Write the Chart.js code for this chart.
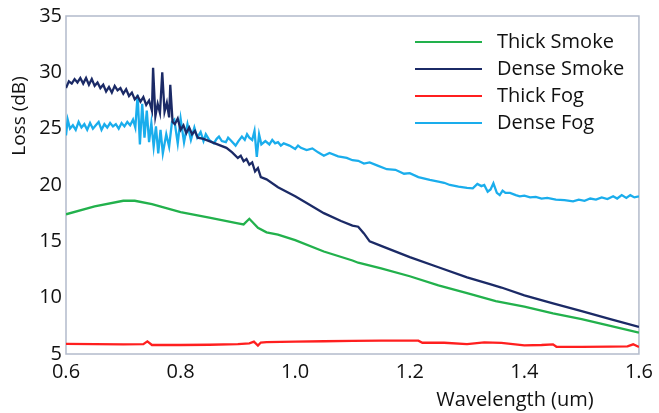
<!DOCTYPE html>
<html>
<head>
<meta charset="utf-8">
<script src="https://cdn.jsdelivr.net/npm/chart.js@4.4.1/dist/chart.umd.min.js"></script>
<style>
  html, body { margin: 0; padding: 0; background: #fff; }
  #box { width: 659px; height: 413px; }
</style>
</head>
<body>
<div id="box"><canvas id="grafica"></canvas></div>
<script>
// wavelength (um) and loss (dB)
const thickSmokeX = [0.60, 0.65, 0.70, 0.72, 0.75, 0.80, 0.85, 0.90, 0.91, 0.92, 0.935, 0.95, 0.97, 1.00, 1.05, 1.10, 1.11, 1.15, 1.20, 1.25, 1.30, 1.35, 1.40, 1.45, 1.50, 1.55, 1.60];
const thickSmokeY = [17.4, 18.1, 18.6, 18.6, 18.3, 17.6, 17.1, 16.6, 16.5, 17.0, 16.2, 15.8, 15.6, 15.1, 14.1, 13.3, 13.1, 12.6, 11.9, 11.1, 10.4, 9.7, 9.2, 8.6, 8.1, 7.5, 6.9];

const denseSmokeX = [0.600, 0.605, 0.610, 0.615, 0.620, 0.625, 0.630, 0.635, 0.640, 0.645, 0.650, 0.655, 0.660, 0.665, 0.670, 0.675, 0.680, 0.685, 0.690, 0.695, 0.700, 0.705, 0.710, 0.715, 0.720, 0.725, 0.730, 0.735, 0.740, 0.745, 0.750, 0.752, 0.756, 0.760, 0.764, 0.768, 0.772, 0.776, 0.780, 0.782, 0.786, 0.790, 0.795, 0.800, 0.805, 0.810, 0.815, 0.820, 0.825, 0.830, 0.840, 0.850, 0.860, 0.870, 0.880, 0.890, 0.900, 0.905, 0.910, 0.915, 0.920, 0.925, 0.930, 0.935, 0.940, 0.950, 0.970, 1.000, 1.020, 1.050, 1.080, 1.100, 1.110, 1.120, 1.130, 1.150, 1.200, 1.250, 1.300, 1.340, 1.360, 1.400, 1.450, 1.500, 1.550, 1.600];
const denseSmokeY = [28.6, 29.2, 29.0, 29.4, 29.1, 29.5, 29.0, 29.5, 28.9, 29.4, 28.8, 29.1, 28.6, 28.9, 28.3, 28.7, 28.2, 28.8, 28.4, 28.6, 28.1, 28.5, 27.9, 28.2, 27.6, 27.9, 27.4, 27.8, 27.1, 27.5, 26.6, 30.4, 26.1, 27.2, 26.4, 30.0, 26.5, 27.3, 26.0, 28.9, 25.6, 25.4, 25.9, 24.9, 25.3, 24.6, 25.1, 24.5, 24.8, 24.2, 24.1, 23.9, 23.7, 23.5, 23.3, 22.9, 22.4, 22.6, 22.1, 22.3, 21.8, 22.0, 21.2, 21.5, 20.7, 20.5, 19.8, 19.0, 18.4, 17.5, 16.8, 16.4, 16.3, 15.7, 15.0, 14.6, 13.6, 12.7, 11.8, 11.2, 10.9, 10.2, 9.5, 8.8, 8.1, 7.4];

const thickFogX = [0.600, 0.650, 0.700, 0.735, 0.742, 0.750, 0.800, 0.850, 0.900, 0.920, 0.928, 0.935, 0.940, 0.950, 1.000, 1.050, 1.100, 1.150, 1.200, 1.215, 1.222, 1.260, 1.300, 1.330, 1.360, 1.400, 1.430, 1.450, 1.456, 1.500, 1.550, 1.580, 1.590, 1.600];
const thickFogY = [5.9, 5.88, 5.86, 5.88, 6.12, 5.8, 5.8, 5.82, 5.88, 5.95, 6.1, 5.75, 6.02, 6.05, 6.1, 6.13, 6.16, 6.18, 6.18, 6.18, 6.0, 6.0, 5.88, 6.03, 5.98, 5.76, 5.8, 5.86, 5.64, 5.64, 5.66, 5.68, 5.86, 5.62];

const denseFogX = [0.600, 0.603, 0.607, 0.612, 0.617, 0.622, 0.627, 0.632, 0.637, 0.642, 0.647, 0.652, 0.657, 0.662, 0.667, 0.672, 0.677, 0.682, 0.687, 0.692, 0.697, 0.702, 0.707, 0.712, 0.717, 0.721, 0.725, 0.729, 0.733, 0.737, 0.741, 0.745, 0.749, 0.753, 0.757, 0.761, 0.765, 0.769, 0.775, 0.780, 0.785, 0.789, 0.795, 0.800, 0.806, 0.812, 0.818, 0.824, 0.829, 0.835, 0.840, 0.844, 0.850, 0.858, 0.863, 0.867, 0.872, 0.879, 0.883, 0.887, 0.896, 0.901, 0.907, 0.912, 0.916, 0.920, 0.925, 0.929, 0.933, 0.937, 0.941, 0.948, 0.955, 0.960, 0.965, 0.970, 0.975, 0.980, 0.990, 1.000, 1.005, 1.010, 1.020, 1.030, 1.040, 1.050, 1.060, 1.075, 1.090, 1.100, 1.110, 1.120, 1.130, 1.145, 1.160, 1.175, 1.190, 1.200, 1.215, 1.235, 1.250, 1.260, 1.270, 1.285, 1.300, 1.310, 1.318, 1.325, 1.330, 1.336, 1.341, 1.346, 1.352, 1.357, 1.362, 1.367, 1.375, 1.385, 1.392, 1.400, 1.410, 1.420, 1.430, 1.440, 1.455, 1.470, 1.485, 1.495, 1.505, 1.515, 1.525, 1.535, 1.545, 1.555, 1.562, 1.570, 1.578, 1.585, 1.592, 1.600];
const denseFogY = [24.4, 25.8, 25.0, 25.3, 24.9, 25.6, 25.1, 25.4, 24.9, 25.5, 25.0, 25.3, 25.6, 24.9, 25.4, 25.1, 25.5, 25.2, 25.4, 25.0, 25.5, 25.2, 25.6, 25.3, 25.8, 25.1, 28.0, 23.6, 27.2, 24.2, 26.6, 23.8, 25.5, 23.4, 25.2, 22.8, 24.9, 22.8, 24.5, 23.4, 25.6, 25.8, 23.7, 25.9, 23.8, 25.4, 24.0, 25.1, 24.2, 24.7, 23.9, 24.5, 24.0, 23.7, 24.1, 24.3, 23.9, 23.8, 24.2, 24.0, 23.5, 23.9, 24.3, 24.0, 24.5, 24.2, 24.0, 24.8, 22.5, 24.5, 23.6, 23.9, 23.6, 24.0, 23.7, 23.8, 23.5, 23.7, 23.5, 23.2, 23.5, 23.3, 23.1, 23.25, 22.9, 22.6, 22.85, 22.55, 22.4, 22.2, 22.15, 21.9, 22.0, 21.7, 21.4, 21.35, 21.0, 21.05, 20.7, 20.45, 20.3, 20.2, 20.0, 19.85, 19.75, 19.7, 20.1, 19.9, 20.0, 19.4, 19.6, 20.15, 19.3, 19.1, 19.5, 19.3, 19.3, 19.1, 19.0, 19.05, 18.9, 18.95, 18.8, 18.85, 18.7, 18.65, 18.55, 18.7, 18.6, 18.8, 18.7, 18.9, 18.75, 19.0, 18.8, 19.1, 18.85, 19.1, 18.9, 19.0];

const seriesNames = ["Thick Smoke", "Dense Smoke", "Thick Fog", "Dense Fog"];
const seriesColors = ["#22b14c", "#1b2a66", "#ff1f1f", "#1aadec"];
const xTitle = "Wavelength (um)";
const yTitle = "Loss (dB)";

const FONT = "'Open Sans', sans-serif";

function puntos(xs, ys) {
  return xs.map((x, i) => ({ x: x, y: ys[i] }));
}

// frame, axis titles and the legend are drawn by hand
const decoracion = {
  id: "decoracion",
  beforeDatasetsDraw(chart) {
    const { ctx, chartArea: a } = chart;
    ctx.save();
    ctx.strokeStyle = "#b3bbcb";
    ctx.lineWidth = 1.5;
    ctx.strokeRect(a.left, a.top, a.right - a.left, a.bottom - a.top);
    ctx.restore();
  },
  afterDraw(chart) {
    const { ctx } = chart;
    ctx.save();
    ctx.fillStyle = "#111";
    ctx.font = "20px " + FONT;
    ctx.textAlign = "center";
    ctx.textBaseline = "middle";
    ctx.fillText(xTitle, 515, 400);
    ctx.font = "19px " + FONT;
    ctx.translate(20, 116);
    ctx.rotate(-Math.PI / 2);
    ctx.fillText(yTitle, 0, 0);
    ctx.restore();

    ctx.save();
    ctx.font = "20px " + FONT;
    ctx.textBaseline = "middle";
    ctx.textAlign = "left";
    seriesNames.forEach((name, i) => {
      const y = 42 + i * 27;
      ctx.strokeStyle = seriesColors[i];
      ctx.lineWidth = 2;
      ctx.beginPath();
      ctx.moveTo(415, y);
      ctx.lineTo(482, y);
      ctx.stroke();
      ctx.fillStyle = "#111";
      ctx.fillText(name, 497, y);
    });
    ctx.restore();
  }
};

window.onload = () => {
  const datos = [
    puntos(thickSmokeX, thickSmokeY),
    puntos(denseSmokeX, denseSmokeY),
    puntos(thickFogX, thickFogY),
    puntos(denseFogX, denseFogY),
  ];

  new Chart(document.getElementById("grafica"), {
    type: "line",
    data: {
      datasets: seriesNames.map((name, i) => ({
        label: name,
        data: datos[i],
        borderColor: seriesColors[i],
        backgroundColor: seriesColors[i],
        borderWidth: 2.3,
        pointRadius: 0,
        tension: 0,
        fill: false,
      })),
    },
    options: {
      responsive: true,
      maintainAspectRatio: false,
      animation: false,
      layout: { padding: { left: 0, top: 13, right: 16, bottom: 0 } },
      plugins: { legend: { display: false }, tooltip: { enabled: false } },
      scales: {
        x: {
          type: "linear",
          min: 0.6,
          max: 1.6,
          afterFit: (s) => { s.height = 59; },
          grid: { display: false, drawTicks: false },
          border: { display: false },
          ticks: {
            stepSize: 0.2,
            padding: 6,
            color: "#111",
            font: { family: FONT, size: 20 },
            callback: (v) => v.toFixed(1),
          },
        },
        y: {
          min: 5,
          max: 35,
          afterFit: (s) => { s.width = 66; },
          grid: { display: false, drawTicks: false },
          border: { display: false },
          ticks: {
            stepSize: 5,
            padding: 4,
            color: "#111",
            font: { family: FONT, size: 20 },
          },
        },
      },
    },
    plugins: [decoracion],
  });
};
</script>
</body>
</html>
